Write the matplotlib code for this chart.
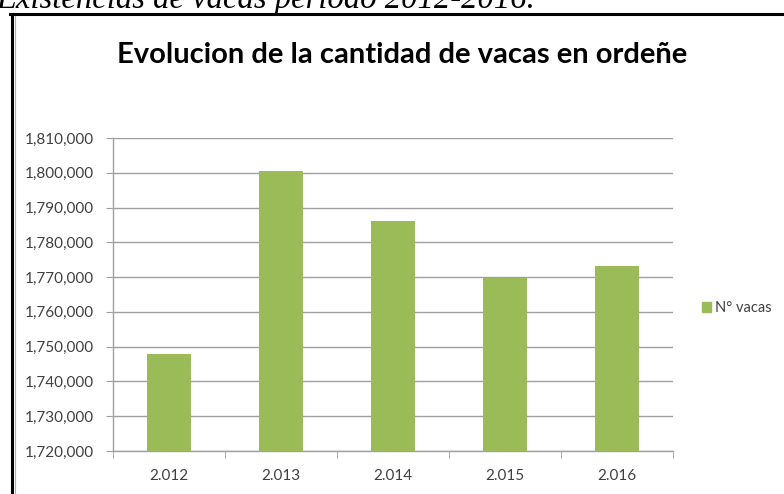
# vacas.py  bar chart of milking cows 2012-2016

import matplotlib.pyplot as plt
from matplotlib.lines import Line2D
from matplotlib.patches import Patch
from matplotlib.ticker import FuncFormatter, FixedLocator

# data
years = ['2.012', '2.013', '2.014', '2.015', '2.016']
vacas = [1748000, 1800500, 1786000, 1769800, 1773300]
serie = 'N° vacas'
titulo = 'Evolucion de la cantidad de vacas en ordeñe'
encabezado = 'Existencias de vacas período 2012-2016.'

green = '#9BBB59'
txt = '#404040'
grid = '#A0A0A0'

W, H = 784, 494
fig = plt.figure(figsize=(W/100, H/100), dpi=100)

# plot area in pixels: left 113, right 673, top 138, bottom 451
ax = fig.add_axes([113/W, 1-451/H, 560/W, (451-138)/H])

x = range(len(years))
ax.bar(x, vacas, width=0.4, color=green, zorder=3)

ax.set_xlim(-0.5, len(years)-0.5)
ax.set_ylim(1720000, 1810000)
ax.set_yticks(range(1720000, 1810001, 10000))
ax.yaxis.set_major_formatter(FuncFormatter(lambda v, p: f'{int(v):,}'))
ax.grid(axis='y', color=grid, lw=1, zorder=0)

# category labels at centres, tick marks at category edges
ax.set_xticks(list(x))
ax.set_xticklabels(years)
ax.xaxis.set_minor_locator(FixedLocator([i-0.5 for i in range(len(years)+1)]))
ax.tick_params(axis='x', which='major', length=0, pad=13)
ax.tick_params(axis='x', which='minor', length=5, color=grid, direction='out')
ax.tick_params(axis='y', length=5, color=grid, direction='out', pad=9)

for lab in ax.get_xticklabels() + ax.get_yticklabels():
    lab.set_fontfamily('Lato')
    lab.set_fontsize(11)
    lab.set_color(txt)

for s in ['top', 'right']:
    ax.spines[s].set_visible(False)
for s in ['left', 'bottom']:
    ax.spines[s].set_color(grid)
    ax.spines[s].set_linewidth(1)

# legend on the right
ax.legend(handles=[Patch(color=green, label=serie)], loc='center left',
          bbox_to_anchor=(702/W, 1-308/H), bbox_transform=fig.transFigure,
          frameon=False, borderpad=0, borderaxespad=0,
          handlelength=0.65, handleheight=0.65, handletextpad=0.25,
          prop={'family': 'Lato', 'size': 10.5}, labelcolor=txt)

# title
fig.text(402/W, 1-55/H, titulo, ha='center', va='center',
         fontfamily='Lato', fontweight='bold', fontsize=21, color='black')

# caption above the frame, cut by the top edge
fig.text(-4/W, 1-8/H, encabezado, ha='left', va='baseline',
         fontfamily='Liberation Serif', fontstyle='italic', fontsize=23.5, color='black')

# chart frame: thick black top and left, thin grey inner line
fig.add_artist(Line2D([10/W, 1], [1-14/H, 1-14/H], color='black', lw=2.2, transform=fig.transFigure))
fig.add_artist(Line2D([11.5/W, 11.5/W], [0, 1-14/H], color='black', lw=2.2, transform=fig.transFigure))
fig.add_artist(Line2D([14.5/W, 14.5/W], [0, 1-16/H], color='#B0B0B0', lw=0.8, transform=fig.transFigure))

fig.savefig('out.png', dpi=100)
